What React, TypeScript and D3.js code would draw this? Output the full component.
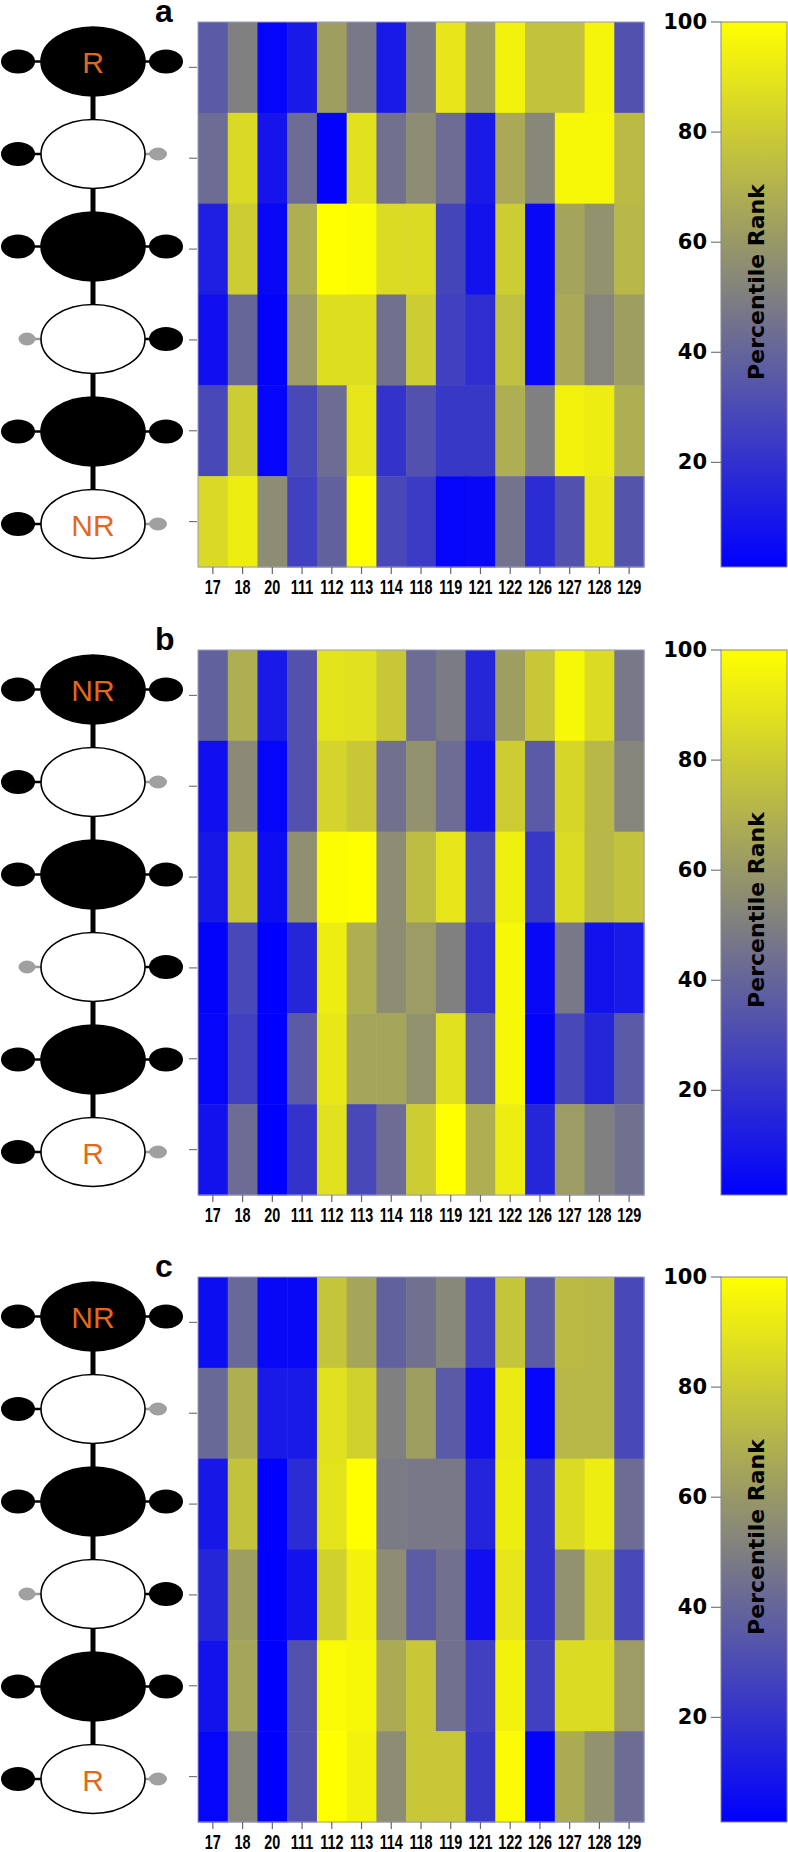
import React from "react";
import * as d3 from "d3";

const columns = ["17", "18", "20", "111", "112", "113", "114", "118", "119", "121", "122", "126", "127", "128", "129"];
const rowIds = ["r1", "r2", "r3", "r4", "r5", "r6"];

const panelA = [
  [35, 50, 2, 10, 62, 47, 10, 48, 90, 62, 95, 76, 76, 96, 32],
  [42, 85, 8, 42, 1, 88, 44, 55, 42, 10, 66, 53, 97, 97, 73],
  [12, 80, 3, 68, 100, 99, 86, 86, 27, 7, 80, 3, 64, 57, 72],
  [6, 40, 1, 61, 87, 87, 44, 80, 25, 18, 75, 3, 66, 52, 62],
  [28, 80, 2, 28, 42, 90, 20, 32, 22, 22, 68, 50, 95, 93, 68],
  [85, 93, 55, 25, 38, 100, 28, 23, 2, 3, 45, 17, 32, 90, 33],
];
const panelB = [
  [38, 68, 10, 32, 89, 88, 78, 42, 48, 15, 62, 78, 97, 86, 47],
  [6, 54, 2, 32, 83, 78, 44, 57, 42, 7, 80, 35, 84, 72, 52],
  [9, 78, 5, 56, 99, 100, 55, 74, 90, 28, 94, 22, 86, 72, 76],
  [1, 28, 0, 15, 93, 68, 55, 61, 50, 20, 97, 3, 47, 7, 10],
  [2, 25, 0, 35, 91, 65, 65, 57, 88, 38, 97, 1, 28, 15, 35],
  [7, 42, 0, 20, 88, 28, 42, 80, 100, 68, 93, 15, 61, 50, 44],
];
const panelC = [
  [5, 41, 3, 3, 77, 65, 38, 44, 53, 25, 77, 35, 73, 72, 28],
  [41, 68, 10, 10, 88, 82, 50, 62, 35, 6, 92, 2, 72, 72, 28],
  [9, 76, 0, 17, 89, 100, 48, 47, 47, 14, 93, 20, 86, 93, 42],
  [15, 62, 0, 7, 82, 95, 55, 36, 44, 6, 90, 20, 57, 82, 28],
  [7, 65, 0, 32, 98, 97, 67, 78, 44, 25, 95, 25, 86, 86, 61],
  [2, 52, 0, 32, 100, 95, 55, 78, 78, 22, 98, 1, 67, 57, 42],
];

const panelLetters = ["a", "b", "c"];
const panelTops = [22, 650, 1277];
const colorbarTicks = [20, 40, 60, 80, 100];

const nodeFill = ["black", "white", "black", "white", "black", "white"];
const leftArm = ["black", "black", "black", "gray", "black", "black"];
const rightArm = ["black", "gray", "black", "black", "black", "gray"];
const nodeLabelsA = ["R", "", "", "", "", "NR"];
const nodeLabelsBC = ["NR", "", "", "", "", "R"];

const panels = [
  { letter: panelLetters[0], top: panelTops[0], values: panelA, labels: nodeLabelsA },
  { letter: panelLetters[1], top: panelTops[1], values: panelB, labels: nodeLabelsBC },
  { letter: panelLetters[2], top: panelTops[2], values: panelC, labels: nodeLabelsBC },
];

const HM_LEFT = 198;
const HM_RIGHT = 644;
const HM_H = 545;
const CB_LEFT = 721;
const CB_RIGHT = 787;

const color = d3.scaleLinear<string>().domain([0, 50, 100]).range(["#0000ff", "#808080", "#ffff00"]);

const NODE_X = 93;
const RX = 52;
const RY = 34.5;

function Pedigree({ top, labels }: { top: number; labels: string[] }) {
  const py = d3.scalePoint<string>().domain(rowIds).range([top + 39.5, top + 502]);
  const items: React.ReactNode[] = [];
  rowIds.forEach((id, i) => {
    const cy = py(id) as number;
    if (i < rowIds.length - 1) {
      const ny = py(rowIds[i + 1]) as number;
      items.push(<line key={"v" + i} x1={NODE_X} x2={NODE_X} y1={cy + RY - 2} y2={ny - RY + 2} stroke="black" strokeWidth={5} />);
    }
    const lg = leftArm[i] === "gray";
    items.push(
      <line key={"ll" + i} x1={lg ? 34 : 33} x2={NODE_X - RX + 1} y1={cy} y2={cy} stroke={lg ? "#999" : "black"} strokeWidth={2.5} />
    );
    items.push(
      lg ? (
        <ellipse key={"le" + i} cx={27} cy={cy} rx={8.5} ry={6.5} fill="#a0a0a0" />
      ) : (
        <ellipse key={"le" + i} cx={18} cy={cy} rx={17} ry={12} fill="black" />
      )
    );
    const rg = rightArm[i] === "gray";
    items.push(
      <line key={"rl" + i} x1={NODE_X + RX - 1} x2={152} y1={cy} y2={cy} stroke={rg ? "#999" : "black"} strokeWidth={2.5} />
    );
    items.push(
      rg ? (
        <ellipse key={"re" + i} cx={158} cy={cy} rx={9} ry={6.5} fill="#a0a0a0" />
      ) : (
        <ellipse key={"re" + i} cx={166} cy={cy} rx={17} ry={12} fill="black" />
      )
    );
    items.push(
      <ellipse key={"n" + i} cx={NODE_X} cy={cy} rx={RX} ry={RY} fill={nodeFill[i]} stroke="black" strokeWidth={1.6} />
    );
    if (labels[i]) {
      items.push(
        <text
          key={"t" + i}
          x={NODE_X}
          y={cy + 1}
          textAnchor="middle"
          dominantBaseline="central"
          fontFamily="'Liberation Sans', Arial, sans-serif"
          fontSize={30}
          fill="#e2691c"
        >
          {labels[i]}
        </text>
      );
    }
  });
  return <g>{items}</g>;
}

function Panel({ letter, top, values, labels }: { letter: string; top: number; values: number[][]; labels: string[] }) {
  const x = d3.scaleBand<string>().domain(columns).range([HM_LEFT, HM_RIGHT]);
  const y = d3.scaleBand<string>().domain(rowIds).range([top, top + HM_H]);
  const bottom = top + HM_H;
  const cb = d3.scaleLinear().domain([1, 100]).range([bottom, top]);
  const gradId = "grad-" + letter;
  const stops = d3.range(0, 101, 5);
  return (
    <g>
      <text x={155} y={top} fontFamily="'Liberation Sans', Arial, sans-serif" fontWeight="bold" fontSize={32} fill="black">
        {letter}
      </text>
      <Pedigree top={top} labels={labels} />
      {values.map((row, ri) =>
        row.map((v, ci) => (
          <rect
            key={ri + "-" + ci}
            x={x(columns[ci])}
            y={y(rowIds[ri])}
            width={x.bandwidth() + 0.5}
            height={y.bandwidth() + 0.5}
            fill={color(v)}
          />
        ))
      )}
      <rect x={HM_LEFT} y={top} width={HM_RIGHT - HM_LEFT} height={HM_H} fill="none" stroke="#9a9ac4" strokeWidth={1} />
      {rowIds.map((id) => {
        const cy = (y(id) as number) + y.bandwidth() / 2;
        return <line key={"lt" + id} x1={189} x2={197} y1={cy} y2={cy} stroke="#777" strokeWidth={1.2} />;
      })}
      {columns.map((c) => {
        const cx = (x(c) as number) + x.bandwidth() / 2;
        return (
          <g key={"bt" + c}>
            <line x1={cx} x2={cx} y1={bottom} y2={bottom + 7} stroke="#666" strokeWidth={1.2} />
            <g transform={`translate(${cx},${bottom + 27}) scale(0.72,1)`}>
              <text
                x={0}
                y={0}
                textAnchor="middle"
                fontFamily="'Liberation Sans', Arial, sans-serif"
                fontWeight="bold"
                fontSize={20}
                fill="black"
              >
                {c}
              </text>
            </g>
          </g>
        );
      })}
      <defs>
        <linearGradient id={gradId} x1="0" y1="1" x2="0" y2="0">
          {stops.map((s) => (
            <stop key={s} offset={(s / 100).toString()} stopColor={color(s)} />
          ))}
        </linearGradient>
      </defs>
      <rect x={CB_LEFT} y={top} width={CB_RIGHT - CB_LEFT} height={HM_H} fill={`url(#${gradId})`} stroke="#888" strokeWidth={1} />
      {colorbarTicks.map((t) => (
        <g key={"cb" + t}>
          <line x1={711} x2={CB_LEFT} y1={cb(t)} y2={cb(t)} stroke="#777" strokeWidth={1.2} />
          <text
            x={707}
            y={cb(t)}
            textAnchor="end"
            dominantBaseline="central"
            fontFamily="'DejaVu Sans', sans-serif"
            fontWeight="bold"
            fontSize={21}
            fill="black"
          >
            {t}
          </text>
        </g>
      ))}
      <text
        transform={`translate(${(CB_LEFT + CB_RIGHT) / 2 + 2},${top + 260}) rotate(-90)`}
        textAnchor="middle"
        dominantBaseline="central"
        fontFamily="'DejaVu Sans', sans-serif"
        fontWeight="bold"
        fontSize={22}
        fill="black"
      >
        Percentile Rank
      </text>
    </g>
  );
}

export default function App() {
  return (
    <svg
      width={788}
      height={1852}
      style={{ position: "absolute", left: 0, top: 0, background: "white" }}
      xmlns="http://www.w3.org/2000/svg"
    >
      <rect x={0} y={0} width={788} height={1852} fill="white" />
      {panels.map((p) => (
        <Panel key={p.letter} letter={p.letter} top={p.top} values={p.values} labels={p.labels} />
      ))}
    </svg>
  );
}
